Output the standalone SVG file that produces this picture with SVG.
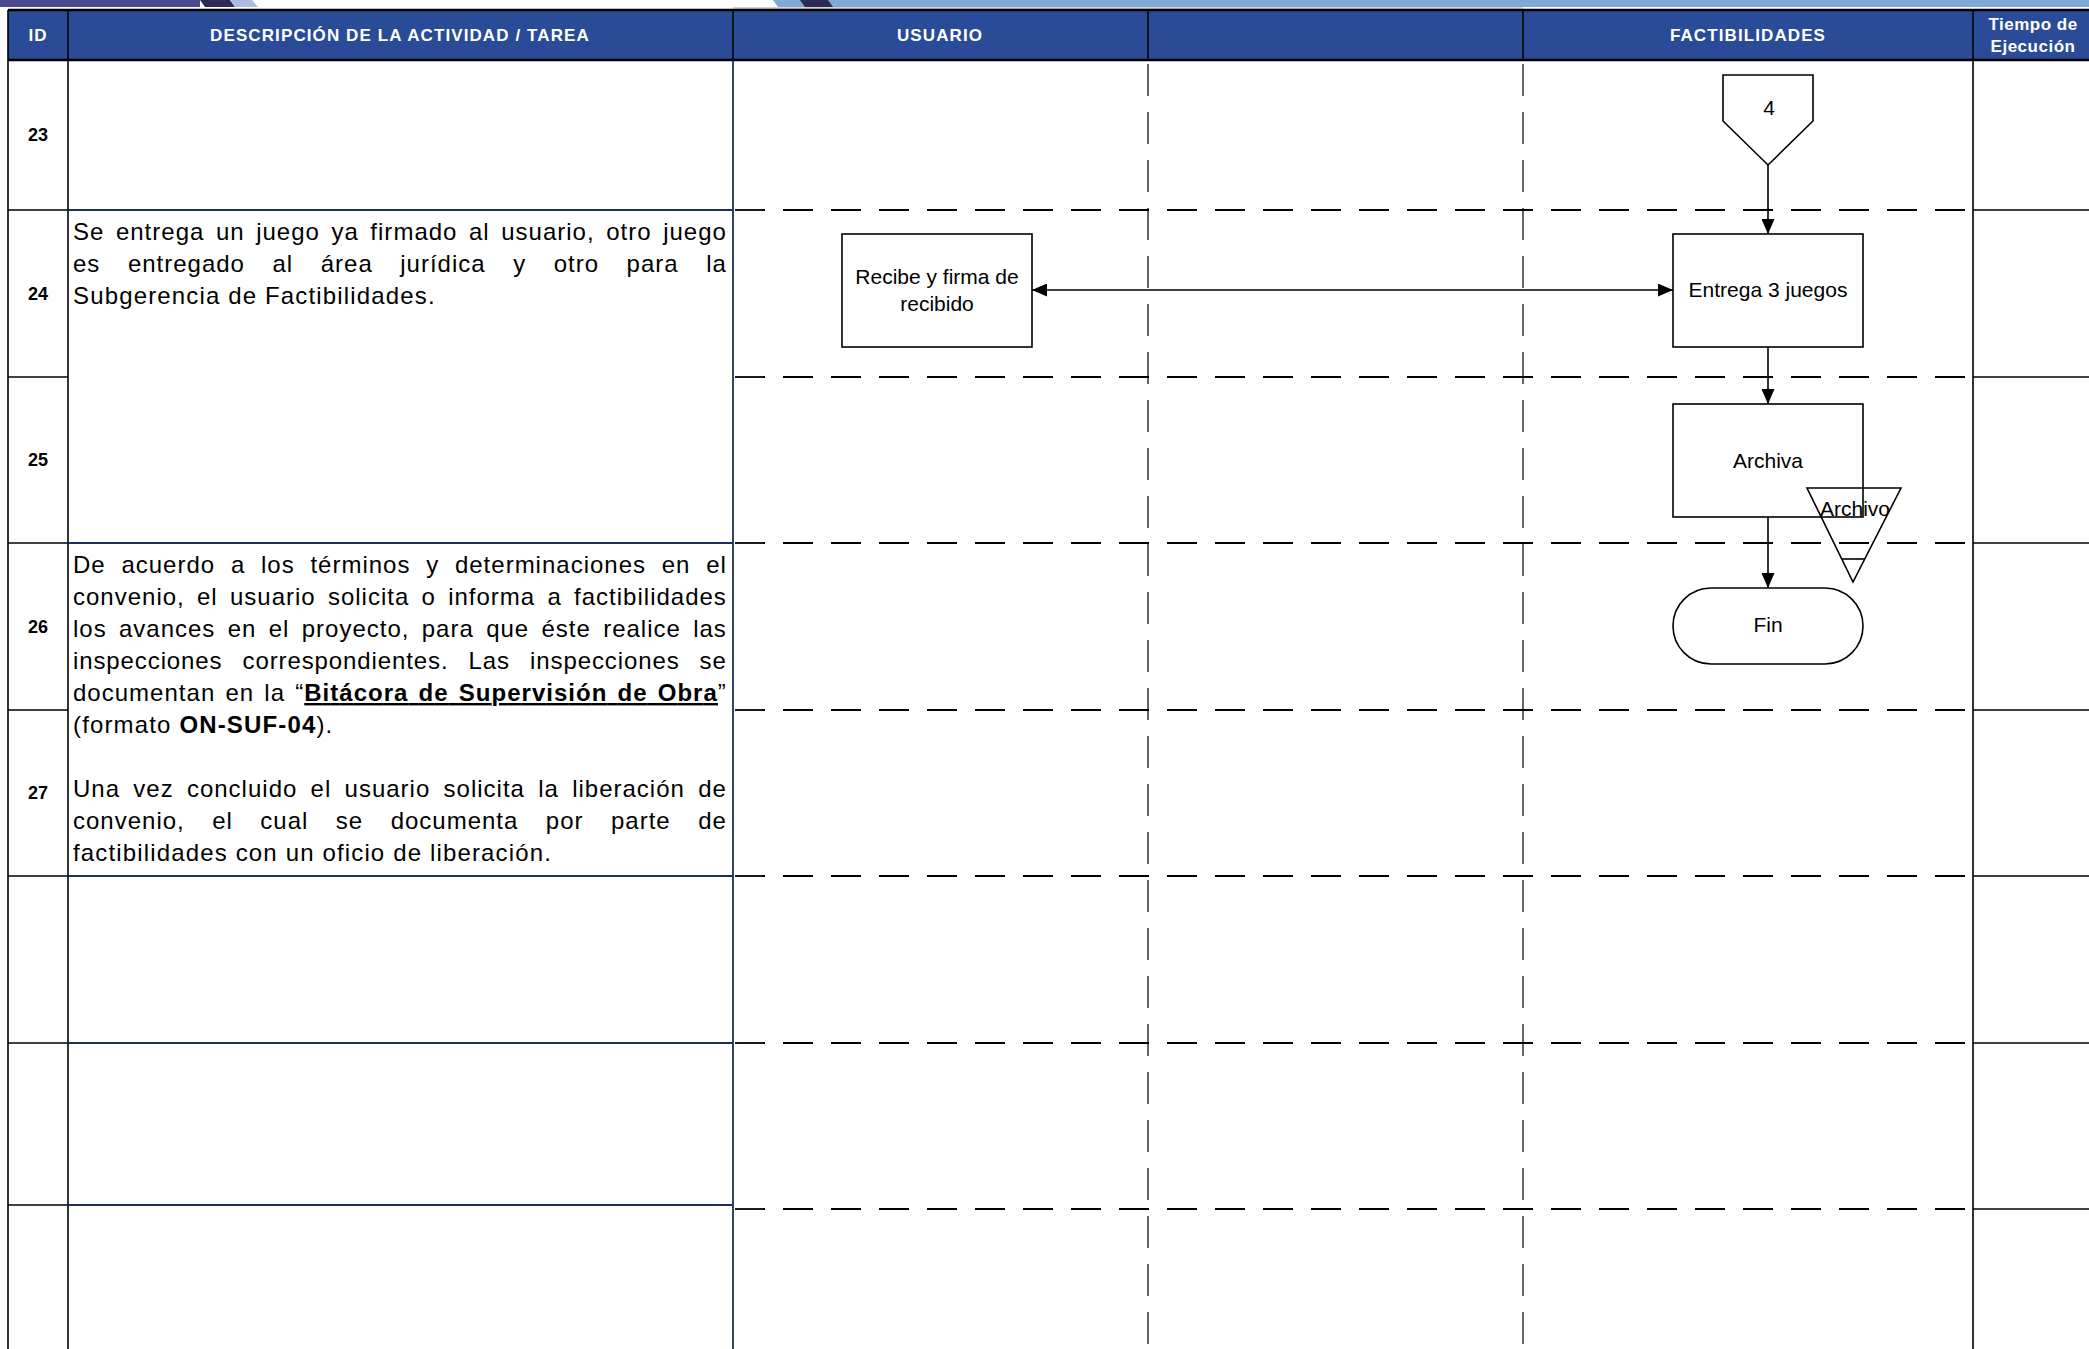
<svg xmlns="http://www.w3.org/2000/svg" width="2089" height="1349" viewBox="0 0 2089 1349">
<style>
text{font-family:"Liberation Sans",Arial,sans-serif}
.hdr{font-weight:bold;font-size:17px;fill:#fff;text-anchor:middle;letter-spacing:1.1px}
.hdr2{font-weight:bold;font-size:17px;fill:#fff;text-anchor:middle;letter-spacing:.5px}
.desc{font-size:24px;letter-spacing:1.15px;fill:#000}
.num{font-weight:bold;font-size:18px;text-anchor:middle;fill:#000}
.fl{font-size:21px;text-anchor:middle;fill:#000}
.box{fill:#fff;stroke:#000;stroke-width:1.6}
.conn{stroke:#000;stroke-width:1.6;fill:none}
.vdash{stroke:#000;stroke-width:1.2;stroke-dasharray:32 16}
.hdash{stroke:#000;stroke-width:1.8;stroke-dasharray:30 18}
.blk{stroke:#000;stroke-width:1.6}
.navy{stroke:#1c2f58;stroke-width:1.8}
</style>
<defs>
<marker id="ah" viewBox="0 0 15 13" refX="15" refY="6.5" markerWidth="15" markerHeight="13" markerUnits="userSpaceOnUse" orient="auto-start-reverse">
<path d="M0,0 L15,6.5 L0,13 z" fill="#000"/>
</marker>
</defs>
<rect width="2089" height="1349" fill="#fff"/>
<g id="top-strip">
<rect x="0" y="0" width="200" height="7" fill="#4a4b8f"/>
<polygon points="200,0 230,0 235,7 205,7" fill="#2d2b55"/>
<polygon points="230,0 252,0 258,7 235,7" fill="#a9bde0"/>
<polygon points="773,0 2089,0 2089,7 778,7" fill="#80aad6"/>
<polygon points="800,0 828,0 833,7 805,7" fill="#2d2b55"/>
<line x1="733" y1="8" x2="1523" y2="8" stroke="#c8c8c8" stroke-width="1.5"/>
</g>
<g id="header">
<rect x="8" y="10" width="2081" height="50" fill="#2a4b98"/>
<line x1="8" y1="10" x2="2089" y2="10" stroke="#000" stroke-width="2.5"/>
<line x1="8" y1="60" x2="2089" y2="60" stroke="#000" stroke-width="2.5"/>
<g class="blk">
<line x1="68" y1="10" x2="68" y2="60"/>
<line x1="733" y1="10" x2="733" y2="60"/>
<line x1="1148" y1="10" x2="1148" y2="60"/>
<line x1="1523" y1="10" x2="1523" y2="60"/>
</g>
<text class="hdr" x="38" y="41">ID</text>
<text class="hdr" x="400" y="41">DESCRIPCIÓN DE LA ACTIVIDAD / TAREA</text>
<text class="hdr" x="940" y="41">USUARIO</text>
<text class="hdr" x="1748" y="41">FACTIBILIDADES</text>
<text class="hdr2" x="2033" y="30">Tiempo de</text>
<text class="hdr2" x="2033" y="52">Ejecución</text>
</g>
<g id="grid">
<g class="blk">
<line x1="8" y1="10" x2="8" y2="1349"/>
<line x1="68" y1="60" x2="68" y2="1349"/>
<line x1="1973" y1="10" x2="1973" y2="1349"/>
<line x1="8" y1="210" x2="68" y2="210"/>
<line x1="8" y1="377" x2="68" y2="377"/>
<line x1="8" y1="543" x2="68" y2="543"/>
<line x1="8" y1="710" x2="68" y2="710"/>
<line x1="8" y1="876" x2="68" y2="876"/>
<line x1="8" y1="1043" x2="68" y2="1043"/>
<line x1="8" y1="1205" x2="68" y2="1205"/>
<line x1="1973" y1="210" x2="2089" y2="210"/>
<line x1="1973" y1="377" x2="2089" y2="377"/>
<line x1="1973" y1="543" x2="2089" y2="543"/>
<line x1="1973" y1="710" x2="2089" y2="710"/>
<line x1="1973" y1="876" x2="2089" y2="876"/>
<line x1="1973" y1="1043" x2="2089" y2="1043"/>
<line x1="1973" y1="1209" x2="2089" y2="1209"/>
</g>
<g class="navy">
<line x1="733" y1="60" x2="733" y2="1349"/>
<line x1="68" y1="210" x2="733" y2="210"/>
<line x1="68" y1="543" x2="733" y2="543"/>
<line x1="68" y1="876" x2="733" y2="876"/>
<line x1="68" y1="1043" x2="733" y2="1043"/>
<line x1="68" y1="1205" x2="733" y2="1205"/>
</g>
<g class="vdash">
<line x1="1148" y1="64" x2="1148" y2="1349"/>
<line x1="1523" y1="64" x2="1523" y2="1349"/>
</g>
<g class="hdash">
<line x1="735" y1="210" x2="1973" y2="210"/>
<line x1="735" y1="377" x2="1973" y2="377"/>
<line x1="735" y1="543" x2="1973" y2="543"/>
<line x1="735" y1="710" x2="1973" y2="710"/>
<line x1="735" y1="876" x2="1973" y2="876"/>
<line x1="735" y1="1043" x2="1973" y2="1043"/>
<line x1="735" y1="1209" x2="1973" y2="1209"/>
</g>
</g>
<g id="ids">
<text class="num" x="38" y="141">23</text>
<text class="num" x="38" y="300">24</text>
<text class="num" x="38" y="466">25</text>
<text class="num" x="38" y="633">26</text>
<text class="num" x="38" y="799">27</text>
</g>
<g id="descriptions">
<text class="desc" x="73" y="240" textLength="654" lengthAdjust="spacing" word-spacing="3.9">Se entrega un juego ya firmado al usuario, otro juego</text>
<text class="desc" x="73" y="272" textLength="654" lengthAdjust="spacing" word-spacing="19.9">es entregado al área jurídica y otro para la</text>
<text class="desc" x="73" y="304">Subgerencia de Factibilidades.</text>
<text class="desc" x="73" y="573" textLength="654" lengthAdjust="spacing" word-spacing="8.1">De acuerdo a los términos y determinaciones en el</text>
<text class="desc" x="73" y="605" textLength="654" lengthAdjust="spacing" word-spacing="4.6">convenio, el usuario solicita o informa a factibilidades</text>
<text class="desc" x="73" y="637" textLength="654" lengthAdjust="spacing" word-spacing="4.7">los avances en el proyecto, para que éste realice las</text>
<text class="desc" x="73" y="669" textLength="654" lengthAdjust="spacing" word-spacing="12.5">inspecciones correspondientes. Las inspecciones se</text>
<text class="desc" x="73" y="701" textLength="654" lengthAdjust="spacing" word-spacing="2.5">documentan en la “<tspan font-weight="bold" text-decoration="underline">Bitácora de Supervisión de Obra</tspan>”</text>
<text class="desc" x="73" y="733">(formato <tspan font-weight="bold">ON-SUF-04</tspan>).</text>
<text class="desc" x="73" y="797" textLength="654" lengthAdjust="spacing" word-spacing="5.6">Una vez concluido el usuario solicita la liberación de</text>
<text class="desc" x="73" y="829" textLength="654" lengthAdjust="spacing" word-spacing="19.8">convenio, el cual se documenta por parte de</text>
<text class="desc" x="73" y="861">factibilidades con un oficio de liberación.</text>
</g>
<g id="connectors">
<line class="conn" x1="1768" y1="165" x2="1768" y2="234" marker-end="url(#ah)"/>
<line class="conn" x1="1768" y1="347" x2="1768" y2="404" marker-end="url(#ah)"/>
<line class="conn" x1="1768" y1="517" x2="1768" y2="588" marker-end="url(#ah)"/>
<line class="conn" x1="1032" y1="290" x2="1673" y2="290" marker-start="url(#ah)" marker-end="url(#ah)"/>
</g>
<g id="node-4">
<polygon class="box" points="1723,75 1813,75 1813,121 1768,165 1723,121"/>
<text class="fl" x="1769" y="115">4</text>
</g>
<g id="node-recibe">
<rect class="box" x="842" y="234" width="190" height="113"/>
<text class="fl" x="937" y="284">Recibe y firma de</text>
<text class="fl" x="937" y="311">recibido</text>
</g>
<g id="node-entrega">
<rect class="box" x="1673" y="234" width="190" height="113"/>
<text class="fl" x="1768" y="297">Entrega 3 juegos</text>
</g>
<g id="node-archiva">
<rect class="box" x="1673" y="404" width="190" height="113"/>
<text class="fl" x="1768" y="468">Archiva</text>
</g>
<g id="node-archivo">
<polygon points="1807,488 1901,488 1853,582" fill="none" stroke="#000" stroke-width="1.6"/>
<line x1="1842" y1="559" x2="1865" y2="559" stroke="#000" stroke-width="1.6"/>
<text class="fl" x="1855" y="516">Archivo</text>
</g>
<g id="node-fin">
<rect class="box" x="1673" y="588" width="190" height="76" rx="38" ry="38"/>
<text class="fl" x="1768" y="632">Fin</text>
</g>
</svg>
